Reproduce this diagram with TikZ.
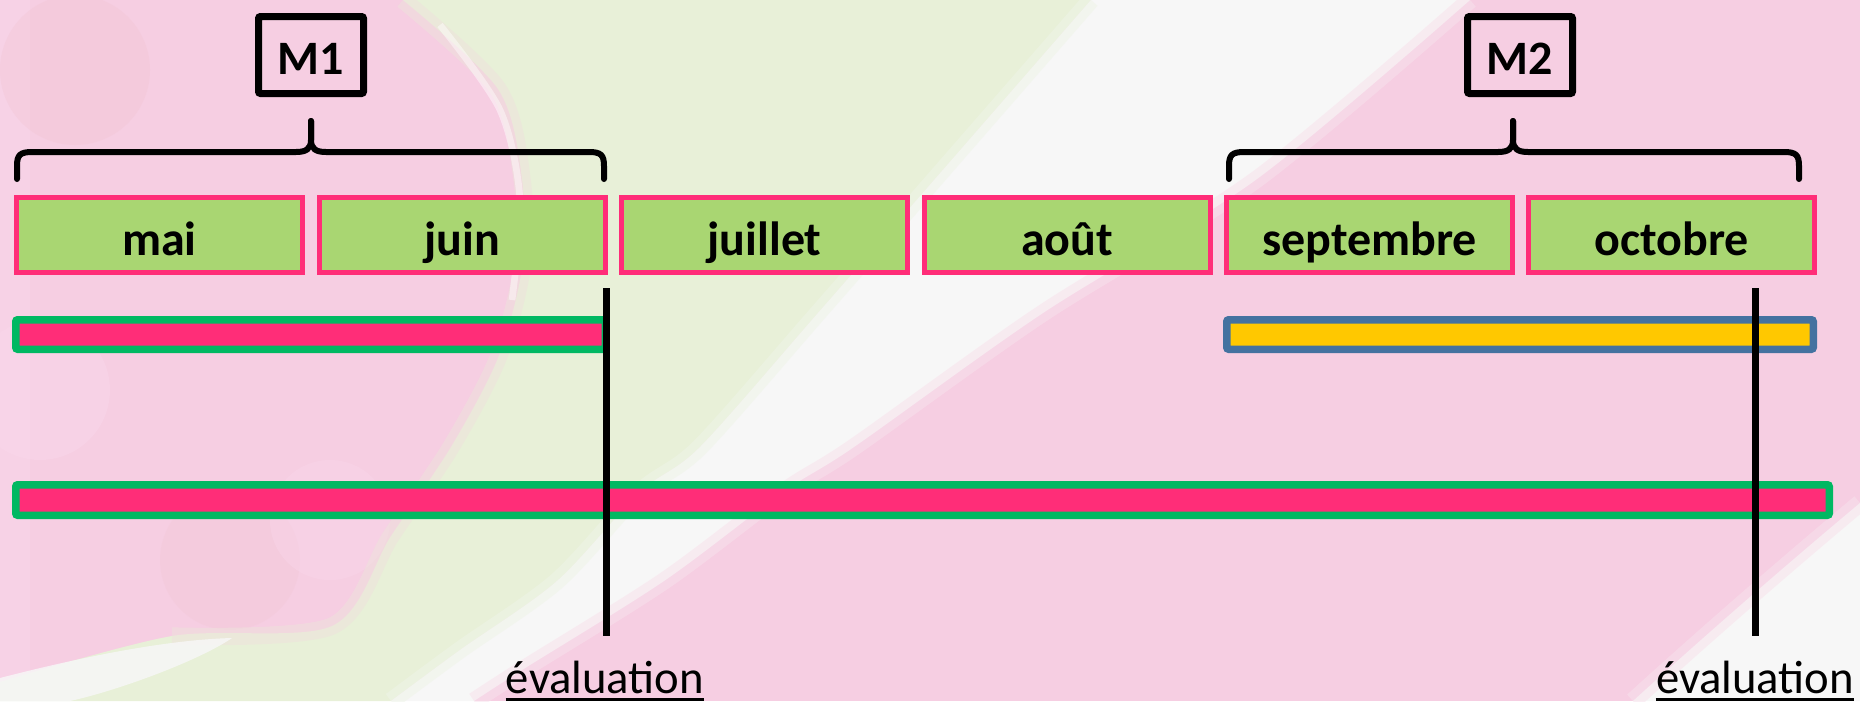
\documentclass[tikz,border=0pt]{standalone}
\usepackage{fontspec}
\setmainfont{Carlito}
\definecolor{bgpink}{HTML}{F6CEE2}
\definecolor{bgpinkdark}{HTML}{F2C4D2}
\definecolor{bgpinklight}{HTML}{F9D6EA}
\definecolor{bggreen}{HTML}{E8F0D8}
\definecolor{bgwhite}{HTML}{F7F7F7}
\definecolor{mpink}{HTML}{FF2D78}
\definecolor{mgreen}{HTML}{A9D672}
\definecolor{bgreen}{HTML}{00B862}
\definecolor{byellow}{HTML}{FFC800}
\definecolor{bblue}{HTML}{4472A0}
\begin{document}
\begin{tikzpicture}[x=0.75pt,y={(0pt,-0.75pt)},
  month/.style={draw=mpink, fill=mgreen, line width=3.75pt, minimum width=214.5pt,
    minimum height=56.25pt, inner sep=0pt, text height=30pt, text depth=0pt,
    font=\bfseries\fontsize{36}{40}\selectfont},
  mbox/.style={draw=black, line width=5.25pt, rounded corners=1.5pt, minimum width=78.75pt,
    minimum height=57.75pt, inner sep=0pt, text height=28.5pt, text depth=0pt,
    font=\bfseries\fontsize{36}{40}\selectfont},
  barpink/.style={draw=bgreen, fill=mpink, line width=5.625pt, rounded corners=1.5pt,
    inner sep=0pt, minimum height=22.125pt},
  baryellow/.style={draw=bblue, fill=byellow, line width=5.625pt, rounded corners=1.5pt,
    inner sep=0pt, minimum height=22.125pt},
  bracestroke/.style={draw=black, line width=4.5pt, line cap=round, line join=round},
  evalline/.style={draw=black, line width=5.25pt},
  evaltext/.style={inner sep=0pt, anchor=base, font=\fontsize{35}{40}\selectfont},
  uline/.style={draw=black, line width=2pt},
  softedge/.style={line width=13pt, opacity=0.55}
]
% ---------- background ----------
\useasboundingbox (0,0) rectangle (1860,701);
\fill[bgpink] (0,0) rectangle (1860,701);
\fill[bgpinklight, opacity=0.6] (0,0) rectangle (30,701);
\fill[bgpinkdark, opacity=0.35] (75,70) circle[radius=75];
\fill[bgpinklight, opacity=0.5] (40,390) circle[radius=70];
\fill[bgpinkdark, opacity=0.25] (230,560) circle[radius=70];
\fill[bgpinklight, opacity=0.45] (330,520) circle[radius=60];
% green area
\fill[bggreen] (403,0) -- (1091,0)
  -- plot[smooth] coordinates {(1091,0) (935,179) (818,313) (700,447) (640,492) (557,581) (460,650) (391,701)}
  -- (0,701) -- (0,682)
  -- plot[smooth] coordinates {(0,682) (172,636) (332,626) (391,536) (451,447) (498,358) (522,268) (522,179) (498,89) (403,0)}
  -- cycle;
\draw[bgpink!40!bggreen, softedge]
  plot[smooth] coordinates {(172,636) (332,626) (391,536) (451,447) (498,358) (522,268) (522,179) (498,89) (403,0)};
\draw[white, opacity=0.45, line width=5pt]
  plot[smooth] coordinates {(440,25) (500,110) (520,200) (512,300)};
% white band
\fill[bgwhite]
  plot[smooth] coordinates {(1091,0) (935,179) (818,313) (700,447) (640,492) (557,581) (460,650) (391,701)}
  -- plot[smooth] coordinates {(474,701) (522,670) (664,581) (783,492) (854,447) (1043,313) (1257,179) (1470,0)}
  -- cycle;
\draw[bggreen!50!bgwhite, softedge]
  plot[smooth] coordinates {(1091,0) (935,179) (818,313) (700,447) (640,492) (557,581) (460,650) (391,701)};
\draw[bgpink!50!bgwhite, softedge]
  plot[smooth] coordinates {(474,701) (522,670) (664,581) (783,492) (854,447) (1043,313) (1257,179) (1470,0)};
% bottom-left wisp
\fill[bgwhite, opacity=0.85] (0,701) -- (0,678)
  .. controls (70,660) and (160,640) .. (232,638)
  .. controls (200,660) and (120,690) .. (70,701) -- cycle;
% bottom-right corner
\fill[bgwhite] (1860,503) .. controls (1780,570) and (1700,640) .. (1633,701) -- (1860,701) -- cycle;
\draw[bgpink!50!bgwhite, softedge] (1860,503) .. controls (1780,570) and (1700,640) .. (1633,701);

% ---------- M boxes ----------
\node[mbox] (m1) at (311,55) {M1};
\node[mbox] (m2) at (1520,55) {M2};

% ---------- braces ----------
\draw[bracestroke] (17,179) -- (17,166) .. controls (17,155) and (20,152) .. (32,152) -- (296,152)
  .. controls (306,152) and (311,149) .. (311,140) -- (311,121);
\draw[bracestroke] (311,121) -- (311,140) .. controls (311,149) and (316,152) .. (326,152) -- (589,152)
  .. controls (601,152) and (604,155) .. (604,166) -- (604,179);
\draw[bracestroke] (1229,179) -- (1229,166) .. controls (1229,155) and (1232,152) .. (1244,152) -- (1498,152)
  .. controls (1508,152) and (1513,149) .. (1513,140) -- (1513,121);
\draw[bracestroke] (1513,121) -- (1513,140) .. controls (1513,149) and (1518,152) .. (1528,152) -- (1784,152)
  .. controls (1796,152) and (1799,155) .. (1799,166) -- (1799,179);

% ---------- months ----------
\node[month] (mai)  at (159.5,235) {mai};
\node[month] (juin) at (462,235) {juin};
\node[month] (juil) at (764.5,235) {juillet};
\node[month] (aout) at (1067,235) {août};
\node[month] (sept) at (1369.5,235) {septembre};
\node[month] (oct)  at (1671.5,235) {octobre};

% ---------- bars ----------
\node[barpink, minimum width=442.125pt] (bar1) at (310.5,334.5) {};
\node[baryellow, minimum width=439.875pt] (bar2) at (1520,334.5) {};
\node[barpink, minimum width=1360.125pt, minimum height=22.875pt] (bar3) at (922.5,500) {};

% ---------- evaluation lines ----------
\coordinate (t1) at (606,288);
\coordinate (b1) at (606,636);
\coordinate (t2) at (1755,288);
\coordinate (b2) at (1755,636);
\draw[evalline] (t1) -- (b1);
\draw[evalline] (t2) -- (b2);

\node[evaltext] (ev1) at (605,693) {évaluation};
\node[evaltext] (ev2) at (1755,693) {évaluation};
\draw[uline] ([yshift=-4.9pt]ev1.base west) -- ([yshift=-4.9pt]ev1.base east);
\draw[uline] ([yshift=-4.9pt]ev2.base west) -- ([yshift=-4.9pt]ev2.base east);
\end{tikzpicture}
\end{document}
